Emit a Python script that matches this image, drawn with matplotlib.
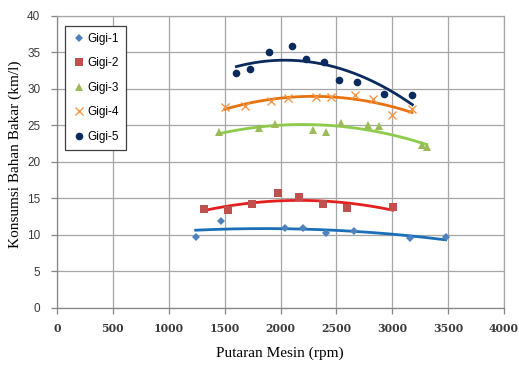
import numpy as np
import matplotlib
matplotlib.use("Agg")
import matplotlib.pyplot as plt

# Engine speed (rpm) and fuel consumption (km/l) for each gear
rpm_1 = [1241, 1470, 2037, 2201, 2410, 2658, 3159, 3478]
km_1 = [9.73, 11.92, 10.88, 10.96, 10.19, 10.47, 9.5, 9.64]

rpm_2 = [1313, 1533, 1745, 1981, 2169, 2377, 2592, 3004]
km_2 = [13.48, 13.38, 14.2, 15.67, 15.12, 14.16, 13.62, 13.75]

rpm_3 = [1453, 1808, 1948, 2294, 2404, 2541, 2786, 2884, 3263, 3308]
km_3 = [24.11, 24.62, 25.21, 24.38, 24.11, 25.34, 25.07, 24.85, 22.29, 22.05]

rpm_4 = [1500, 1685, 1915, 2067, 2318, 2452, 2664, 2830, 2998, 3177]
km_4 = [27.53, 27.63, 28.36, 28.82, 28.96, 28.86, 29.23, 28.59, 26.4, 27.18]

rpm_5 = [1605, 1730, 1897, 2103, 2228, 2389, 2523, 2688, 2929, 3180]
km_5 = [32.15, 32.74, 35.07, 35.94, 34.07, 33.66, 31.29, 31.01, 29.27, 29.14]

labels = ["Gigi-1", "Gigi-2", "Gigi-3", "Gigi-4", "Gigi-5"]

series = [
    (rpm_1, km_1, "D", "#4F81BD", "#1A6FB8", 4.2),
    (rpm_2, km_2, "s", "#C0504D", "#E3201E", 6.0),
    (rpm_3, km_3, "^", "#9BBB59", "#8DCB4A", 6.0),
    (rpm_4, km_4, "x", "#F79646", "#E8730E", 6.0),
    (rpm_5, km_5, "o", "#0B2A5E", "#0B2A5E", 5.5),
]

fig = plt.figure(figsize=(5.19, 3.65), dpi=100)
ax = fig.add_axes([57 / 519, 1 - 307.7 / 365, 447 / 519, 291.7 / 365])

for (x, y, mk, mcol, lcol, ms), lab in zip(series, labels):
    x = np.asarray(x, float)
    y = np.asarray(y, float)
    # second-order polynomial trend line over the measured range
    coef = np.polyfit(x, y, 2)
    xs = np.linspace(x.min(), x.max(), 200)
    ax.plot(xs, np.polyval(coef, xs), color=lcol, lw=2.0, zorder=2)
    if mk == "x":
        ax.plot(x, y, linestyle="none", marker=mk, color=mcol, ms=ms,
                mew=1.0, label=lab, zorder=3)
    else:
        ax.plot(x, y, linestyle="none", marker=mk, color=mcol, ms=ms,
                mew=0, label=lab, zorder=3)

ax.set_xlim(0, 4000)
ax.set_ylim(0, 40)
ax.set_xticks(np.arange(0, 4001, 500))
ax.set_yticks(np.arange(0, 41, 5))
ax.grid(True, color="#A6A6A6", lw=0.9)
ax.set_axisbelow(True)
for s in ax.spines.values():
    s.set_color("#A6A6A6")
    s.set_linewidth(0.9)
ax.spines["left"].set_color("#868686")
ax.spines["bottom"].set_color("#868686")
ax.tick_params(axis="both", length=4, width=0.9, color="#868686")
ax.tick_params(axis="x", pad=7)
ax.tick_params(axis="y", pad=8)
for t in ax.get_xticklabels():
    t.set_fontfamily("DejaVu Serif")
    t.set_fontsize(7.8)
    t.set_fontweight("bold")
    t.set_color("#3A3A3A")
for t in ax.get_yticklabels():
    t.set_fontfamily("Liberation Sans")
    t.set_fontsize(8.5)
    t.set_color("#3A3A3A")

fig.text(280 / 519, 1 - 353 / 365, "Putaran Mesin (rpm)", ha="center",
         va="center", fontsize=11, family="Liberation Serif")
fig.text(15 / 519, 1 - 154 / 365, "Konsumsi Bahan Bakar (km/l)", ha="center",
         va="center", rotation=90, fontsize=11, family="Liberation Serif")

leg = ax.legend(loc="upper left", bbox_to_anchor=(65 / 519, 1 - 26 / 365),
                bbox_transform=fig.transFigure, borderaxespad=0,
                fancybox=False, framealpha=1, edgecolor="#404040",
                handlelength=1.15, handletextpad=0.12, labelspacing=1.05,
                borderpad=0.6,
                prop={"family": "Liberation Sans", "size": 8.5})
leg.get_frame().set_linewidth(0.9)

fig.savefig("out.png", dpi=100)
